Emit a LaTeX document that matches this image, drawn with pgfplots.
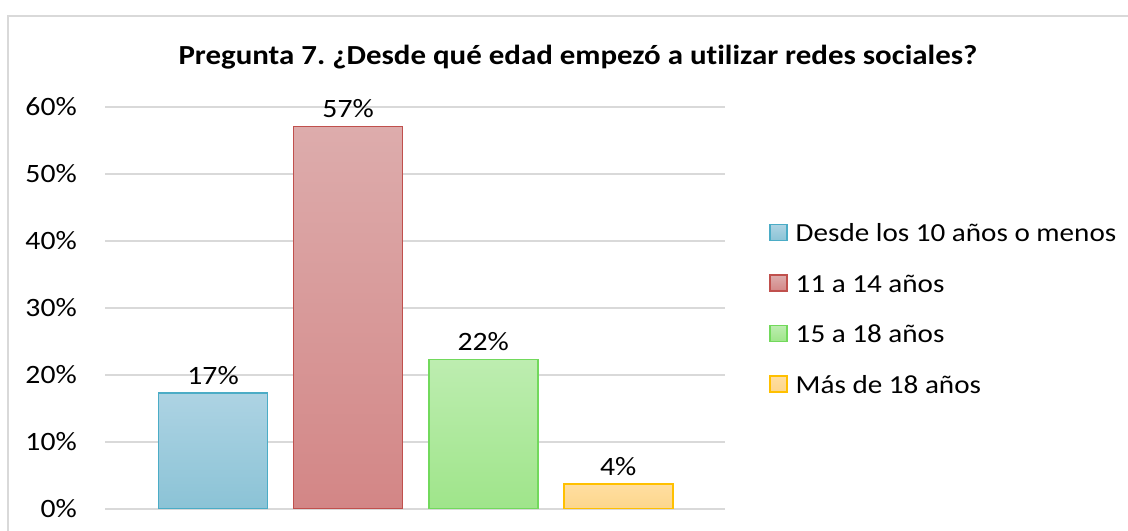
\documentclass[border=0pt]{standalone}
\usepackage{fontspec}
\setmainfont{Carlito}[FakeStretch=1.12, Ligatures=NoCommon]
\usepackage{pgfplots}
\pgfplotsset{compat=1.18}
\definecolor{gridc}{HTML}{D9D9D9}
\definecolor{bBlue}{HTML}{4BACC6}
\definecolor{bRed}{HTML}{C0504D}
\definecolor{bGreen}{HTML}{72D95C}
\definecolor{bYel}{HTML}{FFC000}
\frenchspacing
\begin{document}
\begin{tikzpicture}[x=1bp,y=1bp]
\useasboundingbox (0,0) rectangle (1128,531);
\fill[white] (0,0) rectangle (1128,531);
\draw[gridc, line width=1.5bp] (8,0) -- (8,515) -- (1128,515);
\node[font=\fontsize{27.6bp}{32bp}\selectfont\bfseries] at (578,474) {Pregunta 7. ¿Desde qué edad empezó a utilizar redes sociales?};
\begin{axis}[
  at={(105bp,22bp)}, anchor=south west,
  scale only axis, width=620bp, height=402bp,
  xmin=-0.8, xmax=3.79, ymin=0, ymax=60,
  ytick={0,10,...,60},
  xtick=\empty,
  ymajorgrids, grid style={gridc, line width=1.3bp},
  axis line style={draw=none},
  major tick length=0pt,
  /pgf/number format/assume math mode=true,
  yticklabel={\pgfmathprintnumber{\tick}\%},
  yticklabel style={anchor=east, inner sep=0pt, xshift=-28bp, font=\fontsize{26.5bp}{30bp}\selectfont},
  ybar, bar width=109bp, bar shift=0pt,
  nodes near coords style={anchor=south, inner sep=0pt, yshift=8bp, font=\fontsize{26.5bp}{30bp}\selectfont, text=black},
  legend style={at={(1.071,0.497)}, anchor=west, draw=none, fill=none,
    font=\fontsize{26bp}{30bp}\selectfont, row sep=31bp, inner sep=0pt,
    nodes={inner sep=0pt},
    /tikz/every odd column/.append style={column sep=8bp}},
  legend cell align=left,
  legend image code/.code={\draw[#1, line width=1.5bp] (0bp,-7bp) rectangle (17bp,9bp);},
]
\addplot[draw=bBlue, line width=1.6bp, top color={rgb,255:red,173;green,211;blue,227}, bottom color={rgb,255:red,139;green,195;blue,214}, nodes near coords={17\%}] coordinates {(0,17.3)};
\addplot[draw=bRed, line width=1.6bp, top color={rgb,255:red,221;green,172;blue,172}, bottom color={rgb,255:red,211;green,134;blue,134}, nodes near coords={57\%}] coordinates {(1,57.1)};
\addplot[draw=bGreen, line width=1.6bp, top color={rgb,255:red,189;green,237;blue,176}, bottom color={rgb,255:red,159;green,229;blue,138}, nodes near coords={22\%}] coordinates {(2,22.3)};
\addplot[draw=bYel, line width=1.6bp, top color={rgb,255:red,255;green,222;blue,160}, bottom color={rgb,255:red,252;green,214;blue,140}, nodes near coords={4\%}] coordinates {(3,3.7)};
\legend{Desde los 10 años o menos, 11 a 14 años, 15 a 18 años, Más de 18 años}
\end{axis}
\end{tikzpicture}
\end{document}
